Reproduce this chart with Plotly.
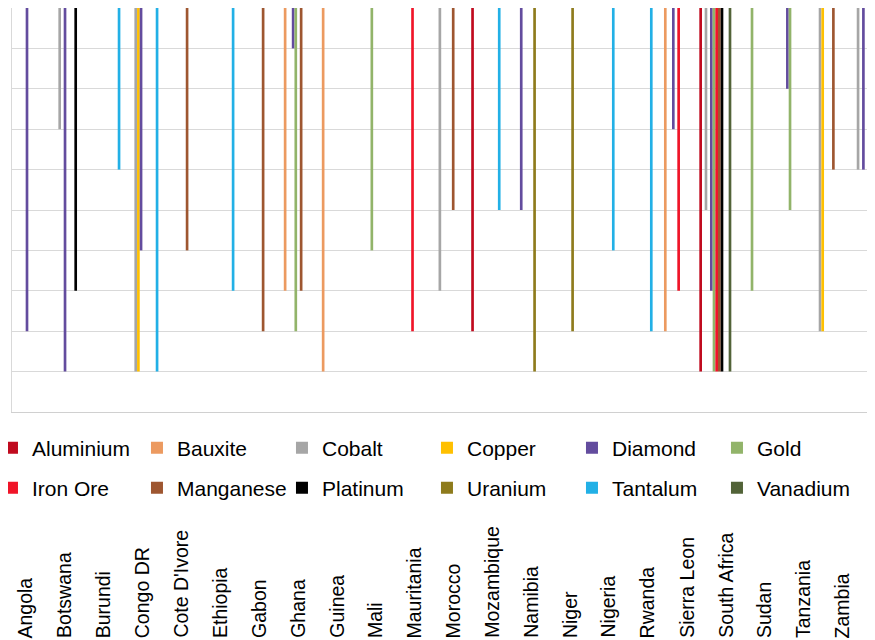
import plotly.graph_objects as go

N = None
countries = ["Angola", "Botswana", "Burundi", "Congo DR", "Cote D'Ivore", "Ethiopia",
             "Gabon", "Ghana", "Guinea", "Mali", "Mauritania", "Morocco", "Mozambique",
             "Namibia", "Niger", "Nigeria", "Rwanda", "Sierra Leon", "South Africa",
             "Sudan", "Tanzania", "Zambia", "Zimbabwe"]
label_countries = countries[:22]

minerals = ["Aluminium", "Bauxite", "Cobalt", "Copper", "Diamond", "Gold",
            "Iron Ore", "Manganese", "Platinum", "Uranium", "Tantalum", "Vanadium"]
colors = ["#C00A1E", "#EC9A60", "#A6A6A6", "#FFC000", "#634C9E", "#92B46A",
          "#F01428", "#9E5630", "#000000", "#8E7B1C", "#22B0E6", "#526338"]

aluminium = [N, N, N, N, N, N, N, N, N, N, N, N, 8, N, N, N, N, N, 9, N, N, N, N]
bauxite   = [N, N, N, N, N, N, N, 7, 9, N, N, N, N, N, N, N, N, 8, N, N, N, N, N]
cobalt    = [N, 3, N, 9, N, N, N, N, N, N, N, 7, N, N, N, N, N, N, 5, N, N, 8, 4]
copper    = [N, N, N, 9, N, N, N, N, N, N, N, N, N, N, N, N, N, N, N, N, N, 8, N]
diamond   = [8, 9, N, 6, N, N, N, 1, N, N, N, N, N, 5, N, N, N, 3, 7, N, 2, N, 4]
gold      = [N, N, N, N, N, N, N, 8, N, 6, N, N, N, N, N, N, N, N, 9, 7, 5, N, N]
iron_ore  = [N, N, N, N, N, N, N, N, N, N, 8, N, N, N, N, N, N, 7, 9, N, N, N, N]
manganese = [N, N, N, N, 6, N, 8, 7, N, N, N, 5, N, N, N, N, N, N, 9, N, N, 4, N]
platinum  = [N, 7, N, N, N, N, N, N, N, N, N, N, N, N, N, N, N, N, 9, N, N, N, 8]
uranium   = [N, N, N, N, N, N, N, N, N, N, N, N, N, 9, 8, N, N, N, N, N, N, N, N]
tantalum  = [N, N, 4, 9, N, 7, N, N, N, N, N, N, 5, N, N, 6, 8, N, N, N, N, N, N]
vanadium  = [N, N, N, N, N, N, N, N, N, N, N, N, N, N, N, N, N, N, 9, N, N, N, N]

series = [aluminium, bauxite, cobalt, copper, diamond, gold,
          iron_ore, manganese, platinum, uranium, tantalum, vanadium]
for s in series:
    assert len(s) == len(countries)

fig = go.Figure()
for i, (name, vals, col) in enumerate(zip(minerals, series, colors)):
    fig.add_trace(go.Bar(
        name=name, x=countries, y=vals, marker=dict(color=col, line=dict(width=0)),
        legend="legend" if i < 6 else "legend2",
    ))

# invisible trace that registers the categories of the label axis
fig.add_trace(go.Scatter(x=label_countries, y=[None] * len(label_countries),
                         xaxis="x2", yaxis="y", mode="markers",
                         showlegend=False, hoverinfo="skip"))

font_family = "Liberation Sans, Arial, sans-serif"
legend_common = dict(orientation="h", xanchor="left", yanchor="middle",
                     entrywidth=100, entrywidthmode="pixels",
                     font=dict(size=21, family=font_family, color="#000"),
                     bgcolor="rgba(0,0,0,0)", traceorder="normal")

# country names, rotated, bottom-aligned at the foot of the page
label_annotations = [
    dict(x=c, xref="x2", y=-0.5644, yref="paper", text=c, showarrow=False,
         textangle=-90, xanchor="center", yanchor="bottom",
         font=dict(size=19.5, family=font_family, color="#000"))
    for c in label_countries
]

fig.update_layout(
    width=867, height=632,
    margin=dict(l=4, r=0, t=0, b=228, autoexpand=False),
    paper_bgcolor="white", plot_bgcolor="white",
    barmode="group", bargap=0.158, bargroupgap=0,
    font=dict(family=font_family, color="#000"),
    xaxis=dict(type="category", categoryorder="array", categoryarray=countries,
               range=[-0.5, 22.2], showticklabels=False, ticks="", showgrid=False,
               showline=True, linecolor="#D0D0D0", linewidth=1, zeroline=False,
               automargin=False),
    yaxis=dict(range=[10, 0], dtick=1, tick0=0,
               showgrid=True, gridcolor="#D9D9D9", gridwidth=1,
               showticklabels=False, ticks="", zeroline=False,
               showline=True, linecolor="#D9D9D9", automargin=False),
    xaxis2=dict(overlaying="x", anchor="y", side="bottom",
                type="category", categoryorder="array", categoryarray=label_countries,
                range=[-0.334, 21.851], showticklabels=False, showgrid=False,
                showline=False, zeroline=False, ticks="", automargin=False),
    legend=dict(x=-0.0232, y=-0.0891, **legend_common),
    legend2=dict(x=-0.0232, y=-0.1881, **legend_common),
    annotations=label_annotations,
    showlegend=True,
)

fig.write_html("out.html")
